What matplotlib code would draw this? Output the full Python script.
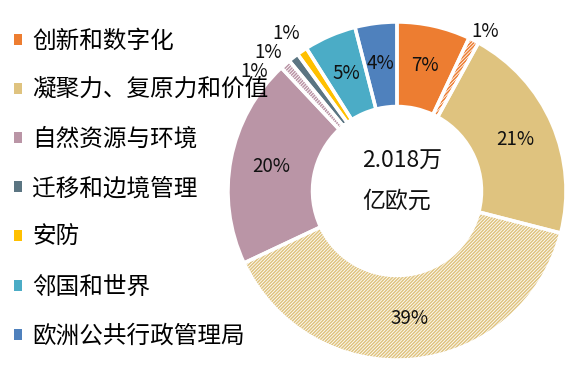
import numpy as np
import matplotlib

matplotlib.use("Agg")
import matplotlib.pyplot as plt

plt.rcParams["font.family"] = ["Noto Sans CJK SC", "DejaVu Sans"]
plt.rcParams["hatch.linewidth"] = 1.1

# slices in drawing order (clockwise from 12 o'clock)
shares = [7, 1, 21, 39, 20, 1, 1, 1, 5, 4]
slice_colors = ["#ED7D31", "#ED7D31", "#DFC37F", "#DFC37F", "#BA95A6",
                "#BA95A6", "#5B7582", "#FFC000", "#4BACC6", "#4F81BD"]
hatched = [False, True, False, True, False, True, False, False, False, False]
pct_labels = [f"{v}%" for v in shares]

legend_names = ["创新和数字化", "凝聚力、复原力和价值", "自然资源与环境", "迁移和边境管理",
                "安防", "邻国和世界", "欧洲公共行政管理局"]
legend_slices = [0, 2, 4, 6, 7, 8, 9]
center_text = "2.018万\n亿欧元"

# label placement for the thin slices (angle in degrees, radius as fraction)
outside_pos = {1: (61, 1.08), 5: (140, 1.10), 6: (133, 1.12), 7: (125, 1.14)}

W, H = 575, 366
cx, cy, R = 397, 175, 169
ring = 0.5

fig = plt.figure(figsize=(W / 100, H / 100), dpi=100)
ax = fig.add_axes([0, 0, 1, 1])

faces = ["white" if h else c for c, h in zip(slice_colors, hatched)]
wedges, _ = ax.pie(shares, colors=faces, startangle=90, counterclock=False,
                   radius=R, center=(cx, cy), frame=True,
                   wedgeprops=dict(width=R * ring, linewidth=0))
for w, c, h in zip(wedges, slice_colors, hatched):
    if h:
        w.set_hatch("//////////")
        w.set_edgecolor(c)

# white separators between slices
ax.pie(shares, colors=["none"] * len(shares), startangle=90, counterclock=False,
       radius=R, center=(cx, cy), frame=True,
       wedgeprops=dict(width=R * ring, linewidth=2.5, edgecolor="white"))

total = sum(shares)
start = 90.0
for i, v in enumerate(shares):
    span = 360.0 * v / total
    mid = start - span / 2
    start -= span
    if i in outside_pos:
        ang, r = outside_pos[i]
    else:
        ang, r = mid, 0.76
    a = np.deg2rad(ang)
    ax.text(cx + r * R * np.cos(a), cy + r * R * np.sin(a), pct_labels[i],
            ha="center", va="center", fontsize=13.5, color="#111111")

ax.text(cx - 35, cy + 10, center_text, ha="left", va="center", fontsize=16.5,
        linespacing=1.95, color="#111111")

ax.legend([wedges[i] for i in legend_slices], legend_names, loc="upper left",
          bbox_to_anchor=(0.008, 0.945), frameon=False, fontsize=17,
          handlelength=0.34, handleheight=0.34, handletextpad=0.42,
          labelspacing=1.11, borderaxespad=0)

ax.set_xlim(0, W)
ax.set_ylim(0, H)
ax.set_aspect("equal")
ax.axis("off")

fig.savefig("out.png", dpi=100, facecolor="white")
